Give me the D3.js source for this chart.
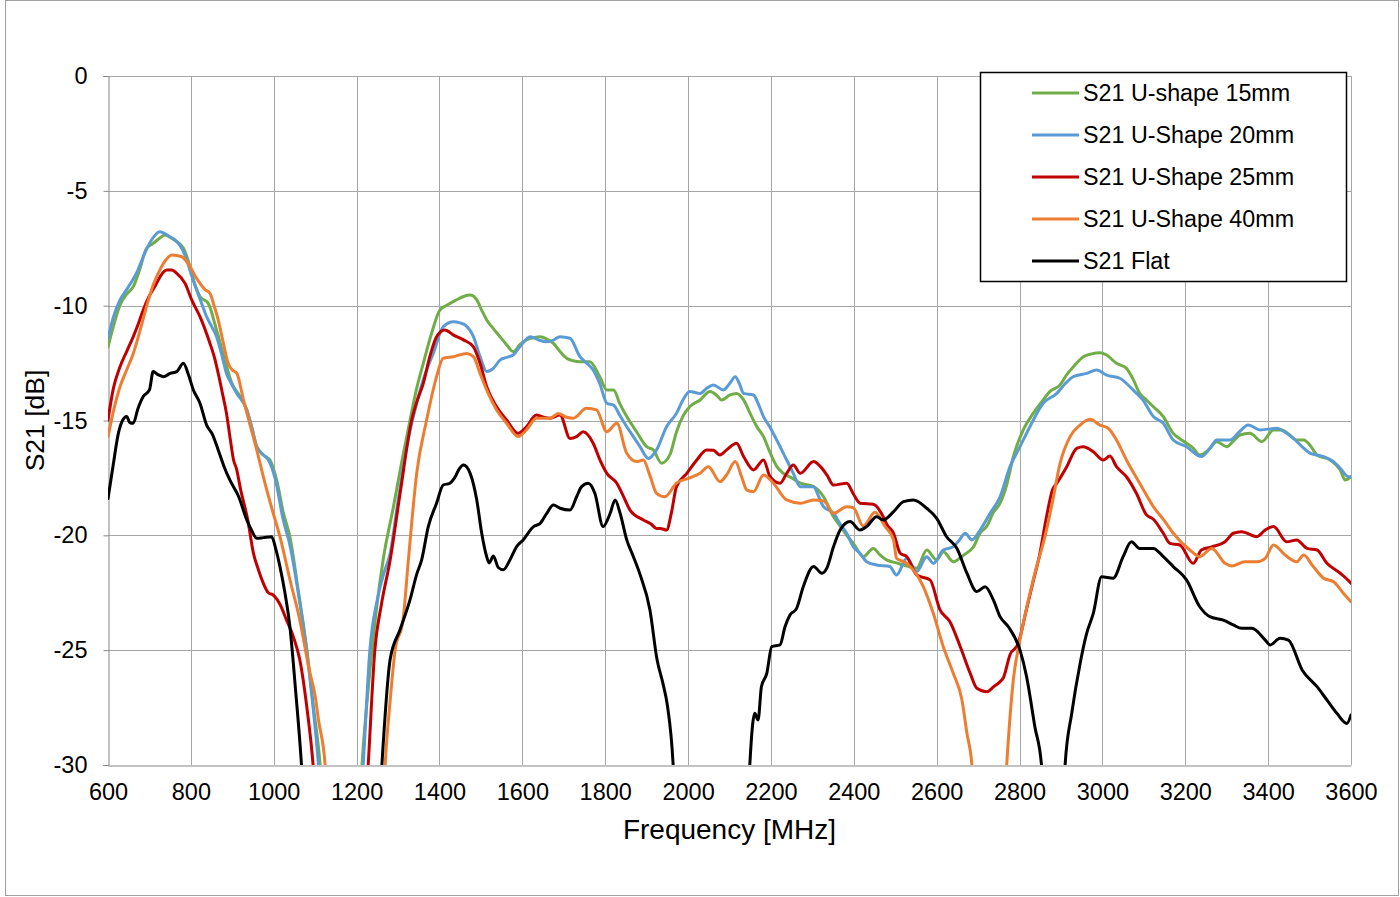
<!DOCTYPE html>
<html>
<head>
<meta charset="utf-8">
<script src="https://cdn.jsdelivr.net/npm/d3@7"></script>
<style>
  html, body { margin: 0; padding: 0; background: #fff; }
  svg { display: block; font-family: "Liberation Sans", Arial, sans-serif; }
</style>
</head>
<body>
<svg id="chart" width="1400" height="897"></svg>
<script>
// ---------------- DATA ----------------
const seriesNames = ["S21 U-shape 15mm", "S21 U-Shape 20mm", "S21 U-Shape 25mm", "S21 U-Shape 40mm", "S21 Flat"];
const seriesColors = ["#70ad47", "#5b9bd5", "#c00000", "#ed7d31", "#000000"];
const xTicks = [600, 800, 1000, 1200, 1400, 1600, 1800, 2000, 2200, 2400, 2600, 2800, 3000, 3200, 3400, 3600];
const yTicks = [0, -5, -10, -15, -20, -25, -30];
const xTitle = "Frequency [MHz]";
const yTitle = "S21 [dB]";

// U-shape 15mm (green)
const freq15 = [600,613,629,645,661,677,693,709,722,738,752,766,782,798,810,822,842,862,882,899,919,935,947,959,975,991,1007,1023,1039,1060,1080,1096,1112,1118,1160,1208,1213,1230,1248,1264,1289,1309,1329,1345,1361,1381,1401,1421,1441,1458,1474,1490,1502,1514,1530,1546,1562,1578,1594,1610,1627,1643,1659,1675,1691,1707,1723,1739,1763,1787,1804,1820,1836,1852,1876,1900,1916,1936,1956,1972,1988,2004,2029,2053,2069,2081,2100,2117,2134,2150,2166,2182,2198,2214,2230,2250,2271,2303,2327,2351,2367,2383,2399,2423,2447,2463,2479,2503,2520,2552,2576,2600,2616,2640,2665,2689,2705,2721,2737,2753,2769,2785,2809,2833,2853,2873,2898,2914,2930,2954,2974,2994,3010,3034,3058,3074,3090,3106,3123,3147,3171,3187,3203,3219,3235,3255,3276,3300,3316,3332,3356,3385,3413,3433,3450,3469,3486,3502,3518,3550,3574,3586,3600];
const s21_15 = [-11.8,-10.9,-9.97,-9.5,-9.17,-8.4,-7.5,-7.29,-7.1,-6.92,-7.05,-7.21,-7.5,-8.3,-9.1,-9.6,-9.9,-11.06,-12.37,-13.38,-13.96,-14.54,-15.3,-16.14,-16.5,-16.72,-17.59,-19.0,-20.06,-22.5,-24.99,-27.5,-30,-31.5,null,-31.5,-30,-26.3,-23.2,-21.07,-18.75,-16.8,-14.98,-13.6,-12.51,-11.2,-10.19,-9.95,-9.75,-9.6,-9.54,-9.75,-10.2,-10.62,-11.0,-11.35,-11.7,-12.0,-11.7,-11.49,-11.4,-11.35,-11.45,-11.64,-12.0,-12.29,-12.4,-12.44,-12.44,-13.1,-13.67,-13.67,-14.3,-14.83,-15.5,-16.14,-16.28,-16.86,-16.5,-15.5,-14.8,-14.4,-14.11,-13.74,-13.9,-14.11,-13.9,-13.82,-14.1,-14.7,-15.27,-15.7,-16.4,-17.0,-17.3,-17.5,-17.73,-17.88,-18.32,-19.19,-19.6,-20.0,-20.35,-20.93,-20.57,-20.85,-21.07,-21.2,-21.29,-21.43,-20.64,-21.07,-20.71,-21.15,-20.86,-20.5,-19.9,-19.6,-19.0,-18.6,-17.8,-16.57,-15.41,-14.69,-14.2,-13.74,-13.45,-13.0,-12.66,-12.22,-12.1,-12.05,-12.15,-12.51,-12.73,-13.2,-13.82,-14.1,-14.4,-14.83,-15.56,-15.8,-15.99,-16.2,-16.5,-16.3,-15.92,-16.14,-15.9,-15.63,-15.56,-15.92,-15.41,-15.41,-15.6,-15.85,-15.85,-16.1,-16.5,-16.72,-17.15,-17.59,-17.45];

// U-Shape 20mm (blue)
const freq20 = [600,613,629,645,657,671,685,705,725,742,766,778,790,802,814,826,838,850,862,874,886,898,911,935,947,959,975,987,1003,1023,1040,1060,1080,1095,1108,1114,1160,1211,1216,1232,1250,1265,1281,1300,1321,1345,1365,1385,1409,1434,1450,1462,1482,1498,1514,1530,1546,1562,1578,1594,1619,1640,1659,1675,1691,1715,1739,1755,1771,1787,1804,1820,1836,1852,1868,1884,1904,1924,1948,1972,1988,2004,2029,2045,2061,2085,2100,2114,2124,2134,2158,2170,2182,2198,2214,2238,2254,2271,2303,2315,2327,2351,2367,2383,2399,2415,2431,2455,2487,2503,2528,2552,2576,2592,2616,2640,2655,2669,2685,2705,2729,2753,2777,2801,2825,2857,2890,2910,2930,2962,2986,3010,3042,3074,3098,3123,3147,3171,3203,3239,3260,3276,3308,3330,3352,3381,3421,3440,3461,3480,3502,3534,3558,3575,3594,3600];
const s21_20 = [-11.42,-10.5,-9.75,-9.3,-8.96,-8.5,-7.87,-7.14,-6.78,-6.92,-7.21,-7.5,-8.01,-8.7,-9.32,-9.9,-10.48,-10.9,-11.35,-12.1,-12.95,-13.4,-13.82,-14.54,-15.3,-16.14,-16.5,-16.72,-17.5,-19.33,-20.5,-22.6,-25.1,-27.5,-30,-31.5,null,-31.5,-30,-25,-22.8,-21.7,-20.78,-18.5,-16.14,-14.25,-13.0,-12.08,-10.92,-10.7,-10.75,-10.84,-11.35,-12.22,-12.87,-12.73,-12.37,-12.25,-12.15,-11.79,-11.35,-11.5,-11.57,-11.5,-11.35,-11.42,-12.22,-12.5,-12.8,-13.4,-14.25,-14.33,-14.8,-15.27,-15.7,-16.14,-16.65,-16.28,-15.27,-14.69,-14.1,-13.74,-13.82,-13.6,-13.45,-13.67,-13.4,-13.09,-13.4,-13.82,-13.89,-14.3,-14.83,-15.3,-15.85,-16.72,-17.3,-17.88,-17.88,-18.3,-18.75,-19.04,-19.5,-19.91,-20.5,-20.78,-21.15,-21.29,-21.36,-21.73,-21.0,-21.58,-20.93,-21.22,-20.64,-20.5,-20.2,-19.91,-20.2,-19.77,-19.04,-18.32,-17.01,-16.14,-15.27,-14.25,-13.82,-13.4,-13.09,-12.95,-12.8,-13.02,-13.16,-13.67,-14.11,-14.83,-15.12,-15.85,-16.14,-16.57,-16.2,-15.85,-15.85,-15.5,-15.2,-15.41,-15.34,-15.5,-15.78,-16.1,-16.43,-16.57,-16.79,-17.1,-17.45,-17.45];

// U-Shape 25mm (red)
const freq25 = [600,613,629,645,661,673,685,699,713,727,742,754,766,786,802,822,846,856,866,876,886,895,903,910,920,937,951,963,975,987,999,1015,1031,1047,1063,1080,1095,1101,1160,1223,1228,1244,1260,1281,1305,1333,1345,1361,1377,1393,1413,1434,1458,1482,1498,1514,1538,1562,1590,1610,1634,1650,1667,1691,1715,1731,1747,1771,1787,1804,1828,1844,1860,1892,1910,1924,1933,1948,1960,1972,1997,2021,2045,2061,2077,2093,2117,2134,2158,2182,2198,2222,2238,2254,2271,2303,2319,2335,2351,2383,2399,2415,2447,2471,2479,2496,2512,2528,2552,2584,2608,2632,2657,2681,2697,2721,2737,2753,2761,2777,2797,2817,2833,2849,2865,2880,2890,2914,2938,2954,2978,3002,3018,3034,3058,3082,3106,3123,3147,3163,3187,3219,3239,3264,3296,3316,3336,3373,3393,3413,3445,3469,3494,3518,3542,3574,3590,3600];
const s21_25 = [-14.98,-13.6,-12.66,-12.0,-11.35,-10.8,-10.19,-9.6,-9.17,-8.7,-8.45,-8.45,-8.59,-9.03,-9.75,-10.48,-11.64,-12.2,-12.95,-13.8,-14.69,-15.8,-16.72,-17.1,-18.0,-19.3,-20.78,-21.5,-22.09,-22.5,-22.6,-23.0,-23.69,-24.4,-25.43,-27.5,-30,-31.5,null,-31.5,-30,-25,-23,-21.07,-18.17,-14.98,-14.2,-13.38,-12.2,-11.35,-11.06,-11.28,-11.49,-11.79,-12.51,-13.53,-14.4,-14.98,-15.56,-15.27,-14.76,-14.85,-14.9,-14.76,-15.78,-15.7,-15.49,-15.99,-16.7,-17.3,-17.73,-18.3,-18.9,-19.33,-19.5,-19.7,-19.7,-19.77,-19.0,-17.88,-17.3,-16.72,-16.28,-16.3,-16.5,-16.28,-15.99,-16.57,-17.15,-16.72,-17.45,-17.73,-17.3,-16.94,-17.3,-16.79,-17.0,-17.37,-17.81,-17.73,-18.2,-18.6,-18.65,-19.19,-19.5,-19.91,-20.78,-20.93,-21.73,-21.94,-23.25,-23.76,-24.85,-26.01,-26.66,-26.81,-26.6,-26.37,-26.2,-25.2,-24.7,-23.2,-22.0,-20.8,-19.2,-18.0,-17.73,-17.01,-16.21,-16.14,-16.36,-16.72,-16.55,-17.01,-17.45,-18.17,-19.1,-19.3,-19.91,-20.35,-20.42,-21.22,-20.64,-20.5,-20.28,-19.91,-19.84,-20.06,-19.77,-19.62,-20.28,-20.2,-20.57,-20.64,-21.22,-21.65,-21.9,-22.09];

// U-Shape 40mm (orange)
const freq40 = [600,613,629,645,661,677,693,709,725,740,754,778,798,810,822,834,846,856,866,878,890,900,911,927,943,959,975,995,1015,1040,1063,1085,1100,1108,1124,1129,1200,1265,1269,1281,1293,1312,1325,1345,1369,1393,1409,1434,1466,1482,1498,1514,1538,1562,1590,1610,1634,1667,1687,1705,1723,1755,1779,1804,1828,1852,1876,1892,1908,1924,1944,1972,2004,2029,2049,2077,2093,2114,2130,2142,2158,2182,2206,2238,2271,2303,2327,2351,2383,2399,2423,2451,2475,2496,2503,2528,2568,2592,2616,2640,2661,2673,2685,2690,2720,2764,2769,2785,2801,2833,2865,2880,2898,2922,2946,2970,2994,3014,3034,3058,3090,3123,3151,3171,3211,3235,3264,3296,3312,3344,3373,3393,3413,3441,3469,3486,3506,3534,3558,3582,3600];
const s21_40 = [-15.7,-14.6,-13.53,-12.8,-12.08,-11.1,-10.04,-9.1,-8.45,-8.0,-7.79,-7.87,-8.3,-8.7,-9.03,-9.3,-9.46,-10.0,-10.62,-11.6,-12.51,-12.8,-12.95,-14.11,-15.2,-16.28,-17.45,-18.8,-20.06,-22.0,-23.69,-25.8,-27.0,-28.04,-30,-31.5,null,-31.5,-30,-27.2,-25.0,-23.7,-21.07,-17.3,-14.98,-13.09,-12.29,-12.22,-12.08,-12.22,-12.95,-13.67,-14.54,-15.12,-15.7,-15.41,-14.9,-14.9,-14.69,-14.85,-14.9,-14.47,-14.54,-15.49,-15.12,-16.43,-16.79,-16.72,-17.4,-18.17,-18.32,-17.73,-17.5,-17.3,-17.01,-17.66,-17.37,-16.79,-17.5,-18.03,-18.1,-17.37,-17.73,-18.46,-18.6,-18.46,-18.5,-19.04,-18.75,-18.8,-19.6,-19.0,-19.6,-20.2,-21.0,-21.22,-22.24,-23.4,-24.85,-26.01,-27.17,-28.62,-30,-31.5,null,-31.5,-30,-26.3,-24.56,-21.94,-19.77,-18.5,-16.86,-15.7,-15.2,-14.95,-15.2,-15.34,-15.85,-16.72,-17.73,-18.75,-19.4,-19.91,-20.64,-20.93,-20.57,-21.22,-21.33,-21.15,-21.15,-21.0,-20.42,-20.86,-21.15,-20.86,-21.29,-21.87,-22.02,-22.53,-22.89];

// Flat (black)
const freqFlat = [600,612,625,635,645,653,661,672,685,700,709,720,734,750,766,782,794,806,822,838,852,866,880,894,915,935,947,959,975,995,1005,1015,1027,1039,1053,1067,1072,1160,1256,1261,1281,1305,1329,1345,1357,1373,1393,1409,1425,1438,1446,1458,1474,1490,1502,1514,1520,1530,1542,1554,1570,1586,1602,1627,1643,1659,1675,1691,1715,1731,1743,1759,1775,1795,1812,1824,1836,1852,1868,1884,1908,1925,1940,1950,1964,1968,2050,2145,2149,2161,2169,2177,2190,2202,2222,2234,2246,2262,2278,2303,2323,2335,2351,2367,2391,2415,2431,2455,2471,2496,2520,2544,2576,2600,2624,2649,2673,2697,2717,2737,2753,2773,2801,2817,2837,2853,2857,2880,2906,2910,2926,2946,2962,2978,2998,3026,3050,3070,3090,3123,3147,3171,3203,3235,3259,3292,3316,3336,3361,3393,3405,3429,3449,3482,3518,3542,3566,3590,3600];
const s21_flat = [-18.4,-17.0,-15.56,-15.0,-14.83,-15.1,-15.12,-14.5,-13.96,-13.67,-12.87,-13.0,-13.09,-12.95,-12.87,-12.51,-13.0,-13.67,-14.25,-15.2,-15.6,-16.28,-17.0,-17.59,-18.3,-19.33,-19.8,-20.13,-20.1,-20.06,-20.6,-21.36,-22.5,-23.98,-26.8,-30,-31.5,null,-31.5,-30,-25.4,-24.1,-22.8,-21.7,-21.07,-19.62,-18.6,-17.81,-17.73,-17.45,-17.16,-16.94,-17.3,-18.46,-19.91,-20.93,-21.2,-20.9,-21.4,-21.5,-21.07,-20.5,-20.2,-19.62,-19.48,-19.04,-18.68,-18.82,-18.9,-18.32,-17.88,-17.73,-18.17,-19.62,-19.04,-18.46,-19.04,-20.2,-20.93,-21.7,-23.25,-25.4,-26.5,-27.4,-30,-31.5,null,-31.5,-30,-27.75,-28.04,-26.59,-26.01,-24.85,-24.77,-23.98,-23.47,-23.18,-22.24,-21.36,-21.65,-21.43,-20.5,-19.77,-19.4,-19.77,-19.62,-19.19,-19.33,-18.97,-18.53,-18.46,-18.82,-19.26,-20.06,-20.57,-21.65,-22.45,-22.24,-22.82,-23.54,-23.98,-24.99,-26.15,-28.33,-30,-31.5,null,-31.5,-30,-27.75,-25.6,-24.27,-23.4,-21.8,-21.87,-20.93,-20.28,-20.57,-20.57,-20.93,-21.36,-21.94,-23.11,-23.54,-23.69,-23.9,-24.05,-24.05,-24.56,-24.77,-24.48,-24.56,-25.86,-26.59,-27.17,-27.75,-28.19,-27.82];

const seriesFreqs = [freq15, freq20, freq25, freq40, freqFlat];
const seriesValues = [s21_15, s21_20, s21_25, s21_40, s21_flat];

// ---------------- CHART ----------------
const svg = d3.select("#chart");
const plot = { left: 108, top: 76, right: 1351, bottom: 765 };
const font = '"Liberation Sans", Arial, sans-serif';

// outer frame
svg.append("rect")
  .attr("x", 5.5).attr("y", 0.5).attr("width", 1393).attr("height", 895)
  .attr("fill", "#fff").attr("stroke", "#a0a0a0").attr("stroke-width", 1);

const x = d3.scaleLinear().domain([600, 3600]).range([plot.left, plot.right]);
const y = d3.scaleLinear().domain([-30, 0]).range([plot.bottom, plot.top]);

// grid
const grid = svg.append("g");
grid.selectAll("line.v").data(xTicks.slice(1)).join("line")
  .attr("x1", d => Math.round(x(d)) + 0.5).attr("x2", d => Math.round(x(d)) + 0.5)
  .attr("y1", plot.top).attr("y2", plot.bottom)
  .attr("stroke", "#a6a6a6").attr("stroke-width", 1);
grid.selectAll("line.h").data(yTicks.filter(d => d !== -30)).join("line")
  .attr("y1", d => Math.round(y(d)) + 0.5).attr("y2", d => Math.round(y(d)) + 0.5)
  .attr("x1", plot.left).attr("x2", plot.right)
  .attr("stroke", "#a6a6a6").attr("stroke-width", 1);

// clip
svg.append("clipPath").attr("id", "clip").append("rect")
  .attr("x", plot.left).attr("y", plot.top)
  .attr("width", plot.right - plot.left).attr("height", plot.bottom - plot.top);

// axes
const yAxis = d3.axisLeft(y).tickValues(yTicks).tickSize(5).tickPadding(16).tickFormat(d => String(d));
const gy = svg.append("g").attr("transform", `translate(${plot.left + 0.5},0)`).call(yAxis);
gy.select(".domain").attr("stroke", "#868686");
gy.selectAll(".tick line").attr("stroke", "#868686");
gy.selectAll(".tick text").attr("font-size", 23.5).attr("font-family", font).attr("fill", "#000");

const xAxis = d3.axisBottom(x).tickValues(xTicks).tickSize(0).tickPadding(18).tickFormat(d => String(d));
const gx = svg.append("g").attr("transform", `translate(0,${plot.bottom + 0.5})`).call(xAxis);
gx.select(".domain").attr("stroke", "#868686");
gx.selectAll(".tick text").attr("font-size", 23.5).attr("font-family", font).attr("fill", "#000");

// series
const lines = svg.append("g").attr("clip-path", "url(#clip)");
seriesNames.forEach((name, i) => {
  const pts = seriesFreqs[i].map((f, j) => ({ f, v: seriesValues[i][j] }));
  const line = d3.line()
    .defined(d => d.v !== null)
    .x(d => x(d.f)).y(d => y(d.v))
    .curve(d3.curveMonotoneX);
  lines.append("path").datum(pts)
    .attr("d", line)
    .attr("fill", "none")
    .attr("stroke", seriesColors[i])
    .attr("stroke-width", 3)
    .attr("stroke-linejoin", "round")
    .attr("stroke-linecap", "round");
});

// axis titles
svg.append("text").attr("x", (plot.left + plot.right) / 2).attr("y", 839)
  .attr("text-anchor", "middle").attr("font-size", 28).attr("font-family", font)
  .text(xTitle);
svg.append("text").attr("transform", `translate(44,${(plot.top + plot.bottom) / 2}) rotate(-90)`)
  .attr("text-anchor", "middle").attr("font-size", 26.5).attr("font-family", font)
  .text(yTitle);

// legend
const lg = svg.append("g");
lg.append("rect").attr("x", 980.5).attr("y", 72.5).attr("width", 366).attr("height", 209)
  .attr("fill", "#fff").attr("stroke", "#000").attr("stroke-width", 1.5);
seriesNames.forEach((name, i) => {
  const yy = 93 + i * 42;
  lg.append("line").attr("x1", 1032).attr("x2", 1079).attr("y1", yy).attr("y2", yy)
    .attr("stroke", seriesColors[i]).attr("stroke-width", 3);
  lg.append("text").attr("x", 1083).attr("y", yy).attr("dy", "0.35em")
    .attr("font-size", 23.3).attr("font-family", font).text(name);
});
</script>
</body>
</html>
